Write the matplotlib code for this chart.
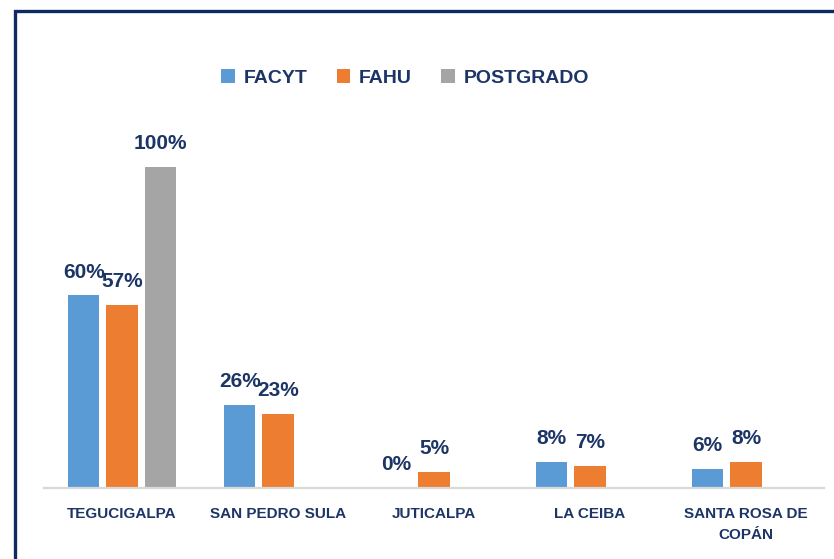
import numpy as np
import matplotlib
matplotlib.use('Agg')
import matplotlib.pyplot as plt
from matplotlib.patches import Rectangle, Patch

# sedes y porcentajes por facultad
sedes = ['TEGUCIGALPA', 'SAN PEDRO SULA', 'JUTICALPA', 'LA CEIBA', 'SANTA ROSA DE\nCOPÁN']
facyt = [60, 26, 0, 8, 6]
fahu = [57, 23, 5, 7, 8]
postgrado = [100, np.nan, np.nan, np.nan, np.nan]

series = ['FACYT', 'FAHU', 'POSTGRADO']
colores = ['#5B9BD5', '#ED7D31', '#A5A5A5']
navy = '#1C3566'

plt.rcParams['font.family'] = ['Liberation Sans', 'DejaVu Sans']

fig = plt.figure(figsize=(8.34, 5.59), dpi=100)
W, H = 834, 559
ax = fig.add_axes([44 / W, (H - 488) / H, 780 / W, 321 / H])

x = np.arange(len(sedes))
ancho = 0.2
paso = 0.245
for i, (vals, col) in enumerate(zip([facyt, fahu, postgrado], colores)):
    pos = x + (i - 1) * paso
    ax.bar(pos, vals, width=ancho, color=col, zorder=2)
    for p, v in zip(pos, vals):
        if np.isnan(v):
            continue
        ax.annotate(f'{v:.0f}%', (p, v), xytext=(0, 10), textcoords='offset points',
                    ha='center', va='bottom', fontsize=15, fontweight='bold',
                    color=navy, annotation_clip=False)

ax.set_xlim(-0.5, 4.5)
ax.set_ylim(0, 100)
ax.set_yticks([])
ax.set_xticks(x)
ax.set_xticklabels(sedes, fontsize=11, fontweight='bold', color=navy, linespacing=1.6)
ax.tick_params(axis='x', length=0, pad=14)
for s in ['top', 'right', 'left']:
    ax.spines[s].set_visible(False)
ax.spines['bottom'].set_color('#D9D9D9')
ax.spines['bottom'].set_linewidth(1.6)

handles = [Patch(facecolor=c, label=s) for c, s in zip(colores, series)]
fig.legend(handles=handles, loc='center', bbox_to_anchor=(405 / W, 1 - 78 / H), ncol=3,
           frameon=False, handlelength=0.7, handleheight=0.7, handletextpad=0.45,
           columnspacing=1.5, prop={'size': 14, 'weight': 'bold'}, labelcolor=navy)

# marco
fig.patches.append(Rectangle((15 / W, -0.05), 1.0, 1 - 11 / H + 0.05, transform=fig.transFigure,
                             fill=False, edgecolor='#0E2A63', linewidth=2.4))

fig.savefig('out.png', dpi=100)
